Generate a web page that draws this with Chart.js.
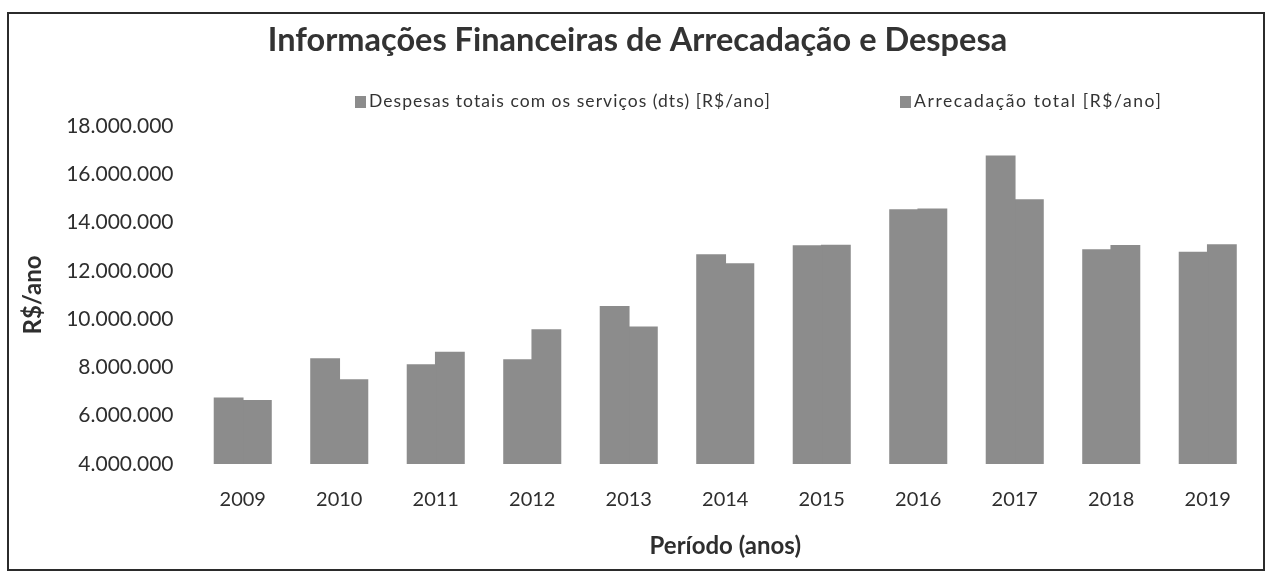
<!DOCTYPE html>
<html>
<head>
<meta charset="utf-8">
<script src="https://cdn.jsdelivr.net/npm/chart.js@4.4.1/dist/chart.umd.min.js"></script>
<style>
  body { margin: 0; background: #fff; width: 1270px; height: 574px; overflow: hidden; font-family: Lato, sans-serif; }
  #frame { position: absolute; left: 7px; top: 12px; width: 1254px; height: 555px; border: 2px solid #2b2b2b; }
  #frame canvas { position: absolute; left: 0; top: 0; }
  .leg { position: absolute; top: 77px; font-size: 17.5px; color: #333; white-space: nowrap; line-height: 20px; }
  .leg i { display: inline-block; width: 11px; height: 12px; background: #8c8c8c; margin-right: 3px; vertical-align: -1px; }
</style>
</head>
<body>
<div id="frame">
  <canvas id="grafico" width="1254" height="555"></canvas>
  <span class="leg" id="leg1" style="left:346px; letter-spacing:1.05px"></span>
  <span class="leg" id="leg2" style="left:891px; letter-spacing:1.6px"></span>
</div>
<script>
// dados (R$/ano)
let anos = ['2009','2010','2011','2012','2013','2014','2015','2016','2017','2018','2019']
let despesas = [6720000, 8350000, 8100000, 8310000, 10510000, 12650000, 13030000, 14520000, 16750000, 12860000, 12760000]
let arrecadacao = [6620000, 7480000, 8620000, 9550000, 9660000, 12280000, 13050000, 14550000, 14930000, 13040000, 13070000]
let nomes = ['Despesas totais com os serviços (dts) [R$/ano]', 'Arrecadação total [R$/ano]']
let y_min = 4000000, y_max = 18000000, y_passo = 2000000

let cor_barra = '#8c8c8c'
let cor_texto = '#2e2e2e'

function formata(v){
  return String(v).replace(/\B(?=(\d{3})+(?!\d))/g, '.')
}

document.getElementById('leg1').innerHTML = '<i></i>' + nomes[0]
document.getElementById('leg2').innerHTML = '<i></i>' + nomes[1]

let ctx = document.getElementById('grafico').getContext('2d')
let grafico = new Chart(ctx, {
  type: 'bar',
  data: {
    labels: anos,
    datasets: [{
      label: nomes[0],
      data: despesas,
      backgroundColor: cor_barra,
      borderWidth: 0,
      inflateAmount: 0.8
    }, {
      label: nomes[1],
      data: arrecadacao,
      backgroundColor: cor_barra,
      borderWidth: 0,
      inflateAmount: 0.8
    }]
  },
  options: {
    responsive: false,
    animation: false,
    categoryPercentage: 0.585,
    barPercentage: 1.0,
    layout: { padding: { left: 10, right: 7, top: 0, bottom: 0 } },
    plugins: {
      legend: { display: false },
      tooltip: { enabled: false },
      title: {
        display: true,
        text: 'Informações Financeiras de Arrecadação e Despesa',
        color: '#333',
        font: { family: 'Lato', size: 32.5, weight: 'bold' },
        padding: { top: 7, bottom: 66 }
      }
    },
    scales: {
      x: {
        grid: { display: false, drawTicks: false },
        border: { display: false },
        ticks: { color: cor_texto, font: { family: 'Lato', size: 20 }, padding: 24 },
        title: {
          display: true,
          text: 'Período (anos)',
          color: cor_texto,
          font: { family: 'Lato', size: 24, weight: 'bold' },
          padding: { top: 0, bottom: 8 }
        },
        afterFit: s => { s.height = 105 }
      },
      y: {
        min: y_min,
        max: y_max,
        grid: { display: false, drawTicks: false },
        border: { display: false },
        ticks: {
          stepSize: y_passo,
          color: cor_texto,
          font: { family: 'Lato', size: 21 },
          padding: 21,
          callback: v => formata(v)
        },
        title: {
          display: true,
          text: 'R$/ano',
          color: cor_texto,
          font: { family: 'Lato', size: 24, weight: 'bold' },
          padding: { top: 0, bottom: 0 }
        },
        afterFit: s => { s.width = 175.5 }
      }
    }
  }
})
</script>
</body>
</html>
